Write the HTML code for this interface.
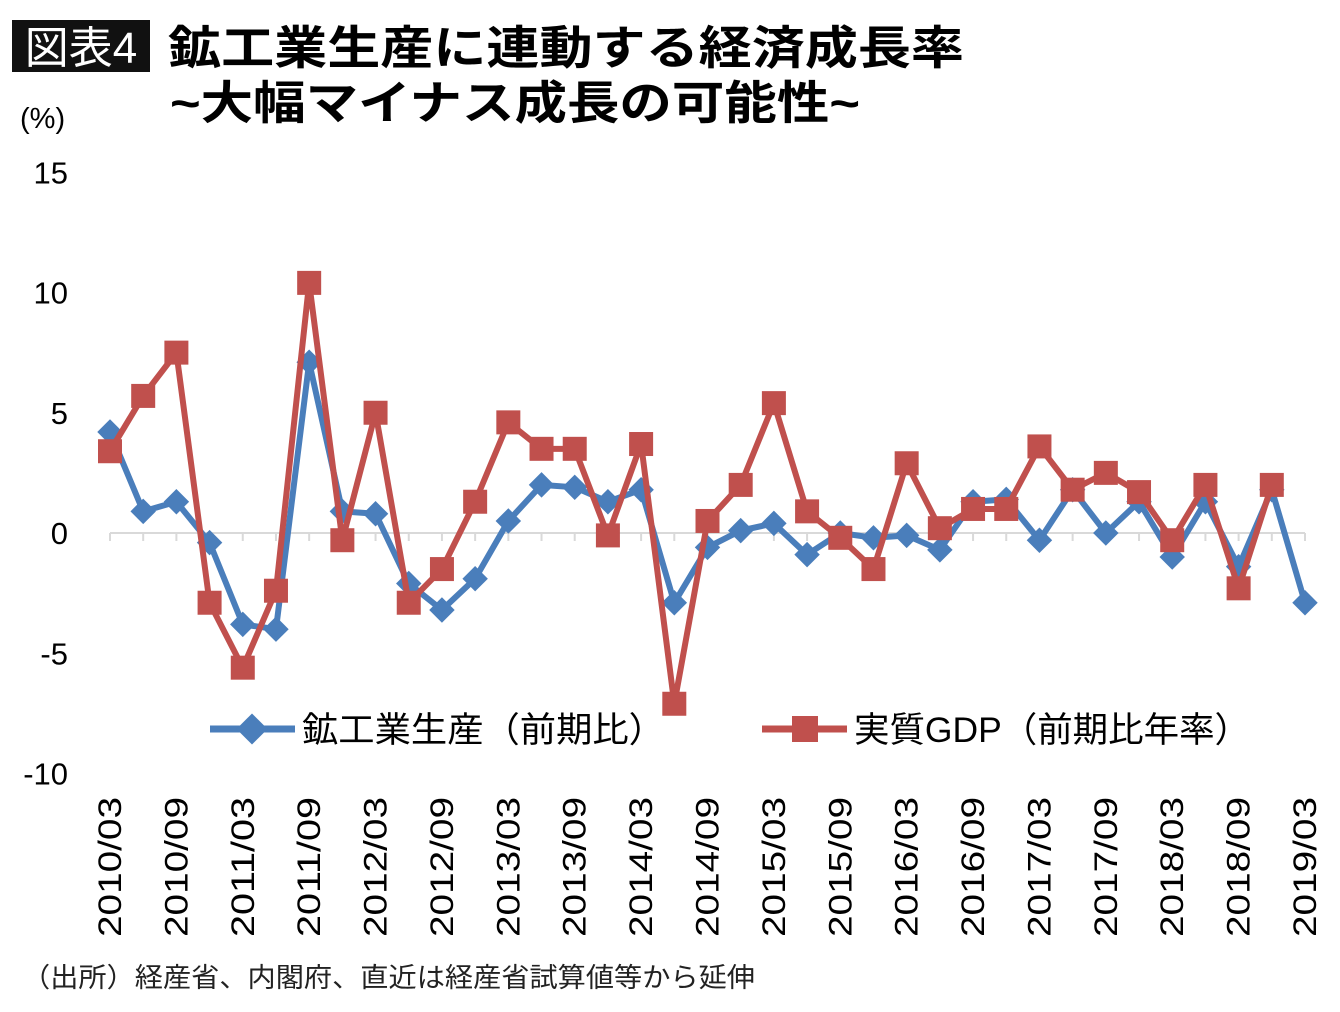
<!DOCTYPE html>
<html><head><meta charset="utf-8"><style>
body{margin:0;background:#fff;width:1340px;height:1007px;overflow:hidden;font-family:"Liberation Sans","Noto Sans CJK JP",sans-serif}
</style></head><body>
<svg id="c" width="1340" height="1007" xmlns="http://www.w3.org/2000/svg">
<rect x="12" y="20" width="138" height="52" fill="#111"/>
<text x="81" y="63" fill="#fff" font-size="44" text-anchor="middle" font-family="Liberation Sans, Noto Sans CJK JP, sans-serif">図表4</text>
<text x="168" y="64" font-size="46" font-weight="bold" textLength="796" lengthAdjust="spacingAndGlyphs" font-family="Liberation Sans, Noto Sans CJK JP, sans-serif">鉱工業生産に連動する経済成長率</text>
<text x="170" y="119" font-size="46" font-weight="bold" textLength="690" lengthAdjust="spacingAndGlyphs" font-family="Liberation Sans, Noto Sans CJK JP, sans-serif">~大幅マイナス成長の可能性~</text>
<text x="20" y="128" font-size="29">(%)</text>
<g id="yt"></g><g id="xt"></g><g id="series"></g>
<g>
<line x1="210" y1="729" x2="295" y2="729" stroke="#4a7ebb" stroke-width="7"/>
<rect x="241" y="718" width="22" height="22" fill="#4a7ebb" transform="rotate(45 252 729)"/>
<text x="302" y="742" font-size="35" textLength="363" lengthAdjust="spacingAndGlyphs">鉱工業生産（前期比）</text>
<line x1="762" y1="729" x2="847" y2="729" stroke="#c0504d" stroke-width="7"/>
<rect x="792" y="716" width="26" height="26" fill="#c0504d"/>
<text x="854" y="742" font-size="35" textLength="396" lengthAdjust="spacingAndGlyphs">実質GDP（前期比年率）</text>
</g>
<text x="22" y="987" font-size="27" fill="#222" textLength="733" lengthAdjust="spacingAndGlyphs">（出所）経産省、内閣府、直近は経産省試算値等から延伸</text>
</svg>
<script>
const quarters=["2010/03","2010/06","2010/09","2010/12","2011/03","2011/06","2011/09","2011/12","2012/03","2012/06","2012/09","2012/12","2013/03","2013/06","2013/09","2013/12","2014/03","2014/06","2014/09","2014/12","2015/03","2015/06","2015/09","2015/12","2016/03","2016/06","2016/09","2016/12","2017/03","2017/06","2017/09","2017/12","2018/03","2018/06","2018/09","2018/12","2019/03"];
const mining=[4.2,0.9,1.3,-0.4,-3.8,-4.0,7.1,0.9,0.8,-2.1,-3.2,-1.9,0.5,2.0,1.9,1.3,1.8,-2.9,-0.6,0.1,0.4,-0.9,0.0,-0.2,-0.1,-0.7,1.3,1.4,-0.3,1.8,0.0,1.3,-1.0,1.3,-1.4,1.8,-2.9];
const gdp=[3.4,5.7,7.5,-2.9,-5.6,-2.4,10.4,-0.3,5.0,-2.9,-1.5,1.3,4.6,3.5,3.5,-0.1,3.7,-7.1,0.5,2.0,5.4,0.9,-0.2,-1.5,2.9,0.2,1.0,1.0,3.6,1.8,2.5,1.7,-0.3,2.0,-2.3,2.0,null];
const yTicks=[15,10,5,0,-5,-10];
const NS="http://www.w3.org/2000/svg";
const X=i=>110+i*(1305-110)/36;
const Y=v=>533-v*24.05;
function mk(t,a,p){const e=document.createElementNS(NS,t);for(const k in a)e.setAttribute(k,a[k]);p.appendChild(e);return e;}
const yt=document.getElementById('yt'),xt=document.getElementById('xt'),sg=document.getElementById('series');
yTicks.forEach(v=>{const t=mk('text',{x:68,y:Y(v)+11,'font-size':31,'text-anchor':'end'},yt);t.textContent=v;

});
const ax=mk('line',{x1:X(0),x2:X(36),y1:Y(0),y2:Y(0),stroke:'#d9d9d9','stroke-width':2},xt);


quarters.forEach((q,i)=>{mk('line',{x1:X(i),x2:X(i),y1:Y(0),y2:Y(0)+8,stroke:'#d9d9d9','stroke-width':2},xt);
if(i%2===0){const t=mk('text',{x:0,y:0,'font-size':32,'text-anchor':'end',textLength:140,lengthAdjust:'spacingAndGlyphs',transform:`translate(${X(i)+11},797) rotate(-90)`},xt);t.textContent=q;

}});
function series(d,col,name,marker){let pts=[];d.forEach((v,i)=>{if(v!==null)pts.push([X(i),Y(v)]);});
const l=mk('polyline',{points:pts.map(p=>p.join(',')).join(' '),fill:'none',stroke:col,'stroke-width':6,'stroke-linejoin':'round'},sg);


pts.forEach(p=>{let m;if(marker==='d')m=mk('rect',{x:p[0]-9,y:p[1]-9,width:18,height:18,fill:col,transform:`rotate(45 ${p[0]} ${p[1]})`},sg);
else m=mk('rect',{x:p[0]-12,y:p[1]-12,width:24,height:24,fill:col},sg);

});}
series(mining,'#4a7ebb','mining','d');
series(gdp,'#c0504d','gdp','s');
</script>
</body></html>
